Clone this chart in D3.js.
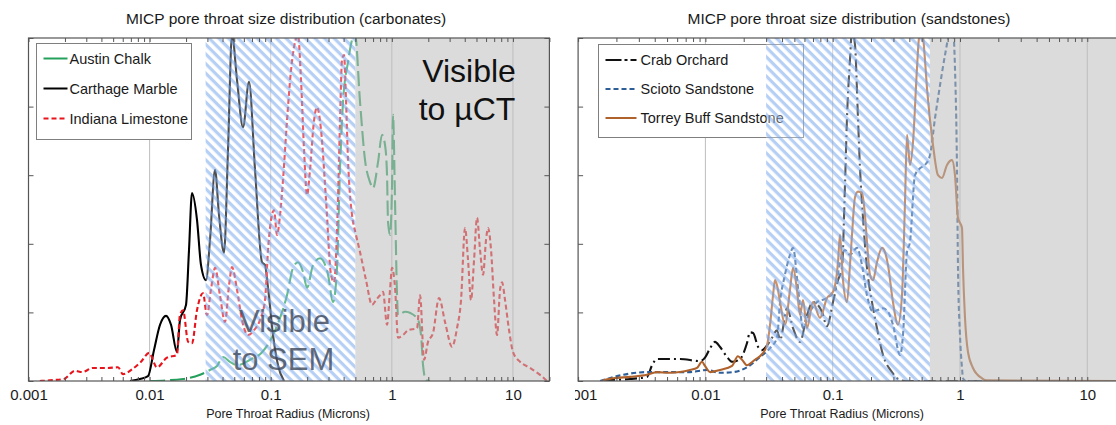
<!DOCTYPE html>
<html><head><meta charset="utf-8">
<script src="https://cdn.jsdelivr.net/npm/d3@7"></script>
<style>
body{margin:0;background:#fff;}
svg{display:block;font-family:"Liberation Sans",Arial,sans-serif;}
</style></head>
<body><svg id="chart" width="1116" height="425"></svg>
<script>
// ---------------- data ----------------
const xTickValues = [0.001, 0.01, 0.1, 1, 10];
const xTickLabels = ["0.001", "0.01", "0.1", "1", "10"];
const yTickValues = [0, 1, 2, 3, 4, 5];
const xDomain = [0.001, 20];
const yDomain = [0, 5];

const carbonateNames = ["Austin Chalk", "Carthage Marble", "Indiana Limestone"];
const sandstoneNames = ["Crab Orchard", "Scioto Sandstone", "Torrey Buff Sandstone"];

// [pore throat radius (microns), relative frequency]
const austinChalk = [[0.0101,0],[0.0189,0.03],[0.0261,0.09],[0.0315,0.16],[0.036,0.22],[0.0404,0.35],[0.0461,0.28],[0.0527,0.23],[0.0675,0.31],[0.0848,0.42],[0.1025,0.64],[0.1194,0.92],[0.1363,1.25],[0.1528,1.65],[0.168,1.73],[0.1848,1.59],[0.1994,1.36],[0.2236,1.69],[0.2554,1.79],[0.2973,1.55],[0.3268,1.15],[0.3528,1.65],[0.3735,3.1],[0.3954,4.07],[0.4347,4.65],[0.4691,4.97],[0.4967,5.06],[0.5461,4.07],[0.6008,3.22],[0.6607,2.9],[0.6996,2.81],[0.7692,3.19],[0.8301,3.59],[0.8789,3.44],[0.9128,3.0],[0.9303,2.32],[0.9663,2.13],[1.004,2.86],[1.023,3.88],[1.063,2.61],[1.104,1.25],[1.125,0.96],[1.285,1.01],[1.615,0.92],[1.742,0.67],[1.81,0.23],[1.916,0.01],[2.068,0]];
const carthageMarble = [[0.00689,0],[0.00833,0.03],[0.0097,0.07],[0.01087,0.45],[0.01219,0.82],[0.01366,0.95],[0.01502,0.82],[0.01683,0.42],[0.01782,0.89],[0.01998,1.11],[0.02115,1.91],[0.02239,2.74],[0.02462,2.35],[0.02657,1.69],[0.02922,1.47],[0.03154,2.06],[0.03467,3.08],[0.03741,2.42],[0.04115,1.87],[0.0444,3.37],[0.0479,5.05],[0.05268,4.39],[0.05905,3.7],[0.06618,4.36],[0.0742,3.08],[0.08477,1.73],[0.08971,1.69],[0.09499,1.36],[0.1045,0.67],[0.1149,0.23],[0.1288,0]];
const indianaLimestone = [[0.00124,0],[0.0015,0.01],[0.00196,0.03],[0.00242,0.15],[0.00277,0.13],[0.00341,0.19],[0.00445,0.19],[0.00548,0.2],[0.00603,0.1],[0.00716,0.17],[0.00849,0.28],[0.00989,0.41],[0.0115,0.2],[0.0139,0.34],[0.0168,0.38],[0.0178,0.96],[0.0189,1.03],[0.0208,0.57],[0.0224,0.55],[0.0246,1.03],[0.0276,1.28],[0.0298,0.96],[0.0321,1.33],[0.0347,1.65],[0.0381,1.25],[0.0419,0.86],[0.0453,1.4],[0.0479,1.66],[0.0527,1.33],[0.0579,0.89],[0.065,0.67],[0.0728,0.74],[0.0816,0.89],[0.0897,1.18],[0.095,1.91],[0.1006,2.35],[0.1065,2.49],[0.1127,2.13],[0.1194,2.42],[0.1263,2.93],[0.1363,3.8],[0.1471,4.53],[0.1587,4.94],[0.168,5.04],[0.1779,4.39],[0.1884,3.37],[0.1994,2.71],[0.2111,3.08],[0.2279,3.8],[0.2412,3.99],[0.2603,3.66],[0.2862,2.64],[0.3148,1.55],[0.3333,1.44],[0.3528,2.2],[0.3735,3.8],[0.3879,4.68],[0.4029,4.75],[0.4185,4.1],[0.4347,3.22],[0.4516,2.71],[0.4691,2.42],[0.5061,2.13],[0.5461,1.88],[0.6122,1.47],[0.6863,1.11],[0.7404,1.18],[0.7988,1.25],[0.8457,1.3],[0.9128,0.82],[0.9663,1.33],[1.004,1.65],[1.063,1.36],[1.125,0.63],[1.237,0.67],[1.361,0.74],[1.615,0.77],[1.71,1.25],[1.845,0.31],[1.99,0.57],[2.189,0.7],[2.454,1.21],[2.75,0.86],[3.141,0.5],[3.454,0.77],[3.727,1.18],[4.023,2.23],[4.259,1.76],[4.508,1.18],[4.773,1.76],[5.052,2.38],[5.35,1.91],[5.665,1.55],[5.997,2.06],[6.229,2.23],[6.595,1.91],[6.982,1.18],[7.391,0.67],[7.826,1.33],[8.128,1.44],[8.606,1.18],[9.29,0.74],[10.02,0.42],[11.45,0.28],[13.84,0.19],[16.74,0.09],[19.1,0]];

const crabOrchard = [[0.00157,0.01],[0.00256,0.03],[0.00348,0.06],[0.00381,0.23],[0.00417,0.32],[0.00632,0.32],[0.00907,0.29],[0.00993,0.34],[0.0109,0.48],[0.0119,0.57],[0.013,0.5],[0.0148,0.35],[0.0162,0.28],[0.0187,0.32],[0.0212,0.55],[0.0224,0.71],[0.0237,0.7],[0.0259,0.5],[0.0278,0.45],[0.0305,0.52],[0.0334,0.63],[0.0365,0.74],[0.0386,0.6],[0.0438,1.06],[0.0488,0.77],[0.0554,0.57],[0.0628,0.96],[0.07,1.15],[0.0824,1.01],[0.0902,0.8],[0.1006,1.15],[0.1101,1.47],[0.1183,1.65],[0.1249,2.86],[0.1295,3.83],[0.1367,4.68],[0.1418,5.12],[0.1497,4.9],[0.158,3.83],[0.1639,3.1],[0.173,2.38],[0.1859,1.65],[0.2036,1.15],[0.2228,0.77],[0.2484,0.38],[0.2923,0.13],[0.32,0.04],[0.37,0],[16.8,0]];
const sciotoSandstone = [[0.00149,0],[0.00225,0.09],[0.00348,0.13],[0.00499,0.13],[0.00757,0.13],[0.0103,0.16],[0.013,0.12],[0.0165,0.13],[0.0212,0.2],[0.0269,0.35],[0.0322,0.48],[0.0365,0.63],[0.0386,1.15],[0.0422,1.55],[0.0462,1.84],[0.0488,1.94],[0.0534,1.36],[0.0585,0.77],[0.0663,1.01],[0.0753,1.15],[0.0902,1.21],[0.1043,1.33],[0.1141,1.73],[0.1249,1.91],[0.1367,1.84],[0.1552,1.94],[0.1699,1.69],[0.1859,1.25],[0.2073,1.01],[0.2228,1.03],[0.2484,1.06],[0.2719,1.01],[0.2976,0.82],[0.3379,0.38],[0.3567,0.67],[0.3835,1.88],[0.4049,2.03],[0.4432,3.0],[0.4851,3.1],[0.5309,3.15],[0.5811,3.29],[0.6364,3.83],[0.6966,4.31],[0.7625,4.75],[0.8346,5.09],[0.881,5.12],[0.9135,4.56],[0.9471,3.1],[0.9644,1.65],[1.0,0.67],[1.037,0.19],[1.056,0.04],[1.115,0],[16.8,0]];
const torreyBuff = [[0.00157,0.01],[0.00188,0.04],[0.00256,0.06],[0.00348,0.09],[0.00417,0.13],[0.00527,0.12],[0.00632,0.13],[0.00757,0.16],[0.00859,0.19],[0.0094,0.28],[0.00993,0.22],[0.0109,0.13],[0.013,0.16],[0.0162,0.22],[0.018,0.36],[0.0194,0.31],[0.0212,0.23],[0.0245,0.31],[0.0278,0.39],[0.0305,0.52],[0.0322,0.82],[0.034,1.25],[0.0352,1.47],[0.0365,1.4],[0.0386,1.15],[0.0422,0.82],[0.0462,1.33],[0.0488,1.65],[0.0524,1.33],[0.0554,0.96],[0.0585,1.18],[0.0628,0.77],[0.07,1.15],[0.0795,0.92],[0.0902,1.21],[0.1006,1.3],[0.1101,1.73],[0.1141,2.13],[0.1205,1.47],[0.1295,1.15],[0.1367,1.69],[0.1418,2.13],[0.1497,2.68],[0.158,2.76],[0.1699,2.74],[0.1793,2.42],[0.1859,2.03],[0.1963,1.55],[0.2073,1.47],[0.2228,1.73],[0.2439,1.94],[0.2575,1.88],[0.2719,1.69],[0.2976,1.15],[0.3258,0.82],[0.3503,1.25],[0.3699,2.61],[0.3835,3.59],[0.4049,3.15],[0.4275,3.48],[0.4595,4.56],[0.4764,5.0],[0.503,5.12],[0.5309,4.68],[0.5505,4.27],[0.6138,3.44],[0.6719,3.0],[0.7222,2.96],[0.7906,3.15],[0.8654,3.22],[0.9135,3.0],[0.9644,2.38],[1.037,2.23],[1.056,1.65],[1.095,0.92],[1.156,0.42],[1.265,0.19],[1.489,0.04],[1.63,0.01],[16.8,0]];

// resolution bands (microns)
const carbonateSemBand = [0.029, 0.5];
const carbonateCtBand = [0.5, 20];
const sandstoneSemBand = [0.03, 0.58];
const sandstoneCtBand = [0.58, 20];

// ---------------- drawing ----------------
const svg = d3.select("#chart");
const defs = svg.append("defs");
const P = 6.8;
const pat = defs.append("pattern").attr("id", "hatch")
  .attr("patternUnits", "userSpaceOnUse").attr("width", P).attr("height", P)
  .attr("patternTransform", "rotate(45)");
pat.append("rect").attr("width", P).attr("height", P).attr("fill", "rgba(255,255,255,0.3)");
pat.append("rect").attr("width", P).attr("height", 3.2).attr("fill", "rgba(110,160,235,0.5)");

const styles = {
  "Austin Chalk": {color: "#25a05c", dash: "15,5", legendDash: null},
  "Carthage Marble": {color: "#000000", dash: null, legendDash: null},
  "Indiana Limestone": {color: "#e8141c", dash: "5,3", legendDash: "5,3"},
  "Crab Orchard": {color: "#111111", dash: "12,4,2,4", legendDash: "16,3,3,3"},
  "Scioto Sandstone": {color: "#2e5e98", dash: "5,3", legendDash: "5,3"},
  "Torrey Buff Sandstone": {color: "#b0622c", dash: null, legendDash: null}
};

function panel(cfg) {
  const g = svg.append("g");
  if (cfg.clipLeft != null) {
    defs.append("clipPath").attr("id", cfg.id + "-outer").append("rect")
      .attr("x", cfg.clipLeft).attr("y", 0).attr("width", 1116 - cfg.clipLeft).attr("height", 425);
    g.attr("clip-path", `url(#${cfg.id}-outer)`);
  }
  const x = d3.scaleLog().domain(xDomain).range(cfg.xRange);
  const y = d3.scaleLinear().domain(yDomain).range([381, 38]);
  const [x0, x1] = cfg.xRange, y0 = 381, y1 = 38;

  defs.append("clipPath").attr("id", cfg.id + "-plot").append("rect")
    .attr("x", x0).attr("y", y1).attr("width", x1 - x0).attr("height", y0 - y1);

  // gridlines at decades
  g.append("g").selectAll("line").data(xTickValues.slice(1)).join("line")
    .attr("x1", d => x(d)).attr("x2", d => x(d)).attr("y1", y1).attr("y2", y0)
    .attr("stroke", "#bdbdbd").attr("stroke-width", 1);

  // series
  const line = d3.line().x(d => x(d[0])).y(d => y(d[1])).curve(d3.curveMonotoneX);
  const plot = g.append("g").attr("clip-path", `url(#${cfg.id}-plot)`);
  cfg.series.forEach(s => {
    const st = styles[s.name];
    plot.append("path").datum(s.data).attr("d", line)
      .attr("fill", "none").attr("stroke", st.color).attr("stroke-width", 2.1)
      .attr("stroke-dasharray", st.dash).attr("stroke-linejoin", "round");
  });

  // legend
  const lg = g.append("g");
  lg.append("rect").attr("x", cfg.legend.x).attr("y", cfg.legend.y)
    .attr("width", cfg.legend.w).attr("height", cfg.legend.h)
    .attr("fill", "#fff").attr("stroke", "#7f7f7f").attr("stroke-width", 1);
  cfg.series.forEach((s, i) => {
    const st = styles[s.name];
    const cy = cfg.legend.y + cfg.legend.first + i * cfg.legend.step;
    lg.append("line").attr("x1", cfg.legend.x + 7).attr("x2", cfg.legend.x + cfg.legend.lineLen)
      .attr("y1", cy).attr("y2", cy).attr("stroke", st.color).attr("stroke-width", 2)
      .attr("stroke-dasharray", st.legendDash);
    lg.append("text").attr("x", cfg.legend.x + cfg.legend.textX).attr("y", cy).attr("dy", "0.35em")
      .attr("font-size", 14.5).attr("fill", "#1a1a1a").text(s.name);
  });

  // overlays: SEM hatch band and µCT grey band
  const ov = g.append("g").attr("clip-path", `url(#${cfg.id}-plot)`);
  ov.append("rect").attr("x", x(cfg.semBand[0])).attr("y", y1)
    .attr("width", x(cfg.semBand[1]) - x(cfg.semBand[0])).attr("height", y0 - y1)
    .attr("fill", "url(#hatch)");
  ov.append("rect").attr("x", x(cfg.ctBand[0])).attr("y", y1)
    .attr("width", x(cfg.ctBand[1]) - x(cfg.ctBand[0])).attr("height", y0 - y1)
    .attr("fill", "rgba(190,190,190,0.55)");

  // axes (inward ticks, log minor ticks)
  const minor = [];
  for (let e = -3; e <= 1; e++) for (let m = 1; m <= 9; m++) {
    const v = m * Math.pow(10, e);
    if (v >= xDomain[0] && v <= xDomain[1]) minor.push(v);
  }
  const fmt = d => { const i = xTickValues.findIndex(t => Math.abs(t - d) / t < 1e-9); return i >= 0 ? xTickLabels[i] : ""; };
  const bottom = g.append("g").attr("transform", `translate(0,${y0})`)
    .call(d3.axisBottom(x).tickValues(minor).tickFormat(fmt).tickSizeInner(-4).tickSizeOuter(0).tickPadding(8));
  const top = g.append("g").attr("transform", `translate(0,${y1})`)
    .call(d3.axisTop(x).tickValues(minor).tickFormat("").tickSizeInner(-4).tickSizeOuter(0));
  const left = g.append("g").attr("transform", `translate(${x0},0)`)
    .call(d3.axisLeft(y).tickValues(yTickValues).tickFormat("").tickSizeInner(-5).tickSizeOuter(0));
  const right = g.append("g").attr("transform", `translate(${x1},0)`)
    .call(d3.axisRight(y).tickValues(yTickValues).tickFormat("").tickSizeInner(-5).tickSizeOuter(0));
  [bottom, top, left, right].forEach(a => {
    a.select(".domain").remove();
    a.selectAll(".tick line").attr("stroke", "#555");
  });
  bottom.selectAll(".tick text").attr("font-size", 15).attr("fill", "#1a1a1a")
    .attr("font-family", '"Liberation Sans",Arial,sans-serif');

  // frame
  g.append("rect").attr("x", x0).attr("y", y1).attr("width", x1 - x0).attr("height", y0 - y1)
    .attr("fill", "none").attr("stroke", "#555").attr("stroke-width", 1.2);

  // titles
  g.append("text").attr("x", cfg.titleX).attr("y", 24).attr("text-anchor", "middle")
    .attr("font-size", 15.5).attr("fill", "#1a1a1a").text(cfg.title);
  g.append("text").attr("x", cfg.labelX).attr("y", 418).attr("text-anchor", "middle")
    .attr("font-size", 12.5).attr("fill", "#1a1a1a").text("Pore Throat Radius (Microns)");

  // annotations
  if (cfg.annotate) {
    const semX = (x(cfg.semBand[0]) + x(cfg.semBand[1])) / 2;
    g.append("text").attr("x", semX + 4).attr("y", 332).attr("text-anchor", "middle")
      .attr("font-size", 31).attr("fill", "#3a4456").attr("fill-opacity", 0.78).text("Visible");
    g.append("text").attr("x", semX + 3).attr("y", 370).attr("text-anchor", "middle")
      .attr("font-size", 31).attr("fill", "#3a4456").attr("fill-opacity", 0.78).text("to SEM");
    g.append("text").attr("x", 469).attr("y", 82).attr("text-anchor", "middle")
      .attr("font-size", 32).attr("fill", "#111").text("Visible");
    g.append("text").attr("x", 467).attr("y", 120).attr("text-anchor", "middle")
      .attr("font-size", 32).attr("fill", "#111").text("to µCT");
  }
}

panel({
  id: "carb", xRange: [28.5, 549.4], title: "MICP pore throat size distribution (carbonates)",
  titleX: 286, labelX: 288,
  series: [
    {name: carbonateNames[0], data: austinChalk},
    {name: carbonateNames[1], data: carthageMarble},
    {name: carbonateNames[2], data: indianaLimestone}
  ],
  semBand: carbonateSemBand, ctBand: carbonateCtBand,
  legend: {x: 36.5, y: 43.5, w: 155, h: 96, first: 15, step: 30, lineLen: 31, textX: 33},
  annotate: true
});
panel({
  id: "sand", xRange: [578.1, 1125.6], clipLeft: 575, title: "MICP pore throat size distribution (sandstones)",
  titleX: 849, labelX: 842,
  series: [
    {name: sandstoneNames[0], data: crabOrchard},
    {name: sandstoneNames[1], data: sciotoSandstone},
    {name: sandstoneNames[2], data: torreyBuff}
  ],
  semBand: sandstoneSemBand, ctBand: sandstoneCtBand,
  legend: {x: 598.5, y: 44.5, w: 205, h: 93, first: 15.5, step: 29, lineLen: 38, textX: 42},
  annotate: false
});
</script></body></html>
